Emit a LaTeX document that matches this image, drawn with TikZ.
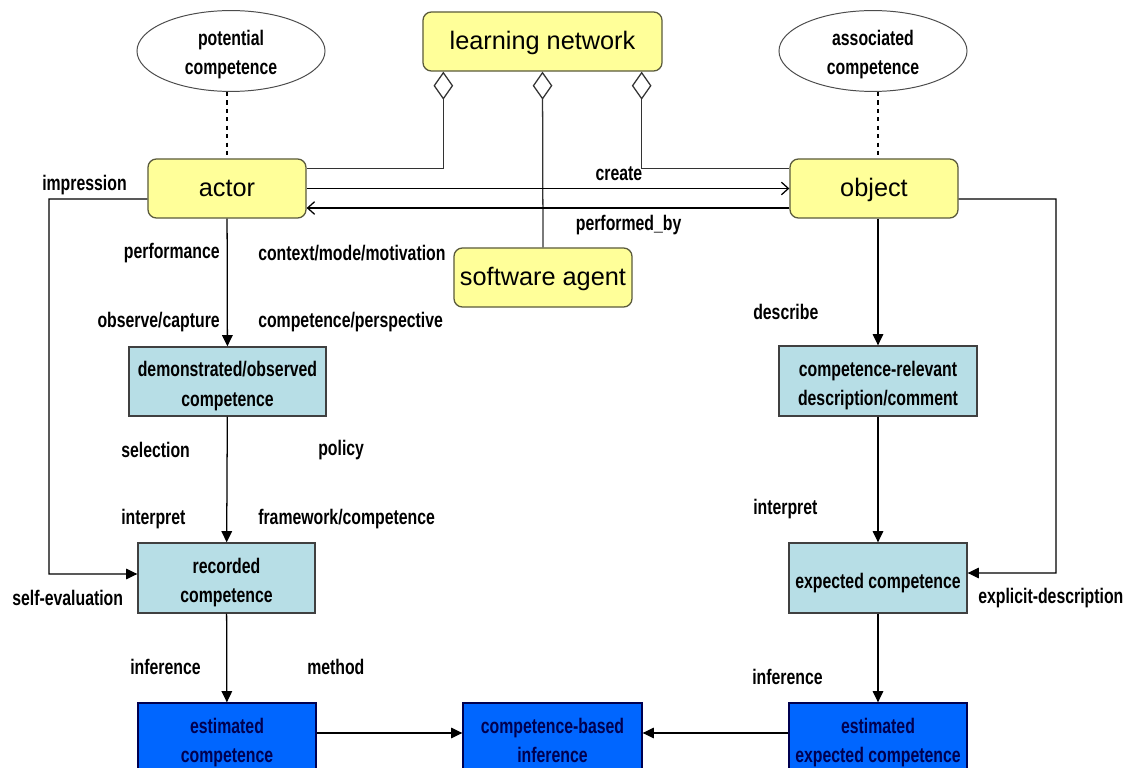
\documentclass[tikz,border=0pt]{standalone}
\usepackage{fontspec}
\setmainfont{Liberation Sans}
\newfontfamily\labelfont{Liberation Sans}[UprightFont=* Bold, FakeStretch=0.75]
\usepackage{xcolor}
\definecolor{paleyellow}{RGB}{255,255,153}
\definecolor{yellowedge}{RGB}{90,90,60}
\definecolor{paleblue}{RGB}{183,222,230}
\definecolor{brightblue}{RGB}{0,102,255}
\definecolor{darknavy}{RGB}{0,0,80}
\usepackage{tikz}
\usetikzlibrary{arrows.meta}
\usetikzlibrary{shapes.geometric}
\newcommand{\heightentity}{1.475cm}
\newcommand{\heightstage}{1.75cm}
\newcommand{\widthstage}{4.45cm}
\tikzset{
    common/.style={draw, rectangle, line width=0.9pt, align=center},
    entity/.style={common, rounded corners=6pt, fill=paleyellow, draw=yellowedge, minimum height=\heightentity, text height=12pt, text depth=0pt, font=\fontsize{18pt}{20pt}\selectfont},
    stage/.style={common, fill=paleblue, draw=black!75, minimum height=\heightstage, minimum width=\widthstage, text depth=0pt, text height=35pt, font=\labelfont\fontsize{15pt}{21pt}\selectfont},
    oneline/.style={text height=15pt},
    result/.style={stage, fill=brightblue, draw=darknavy, text=darknavy, minimum height=1.9cm, text height=31pt},
    oval/.style={draw=black!70, ellipse, line width=0.7pt, fill=white, minimum width=4.7cm, minimum height=1.95cm, align=center, text depth=0pt, text height=34pt, font=\labelfont\fontsize{15pt}{21pt}\selectfont},
    tag/.style={inner sep=0pt, font=\labelfont\fontsize{15pt}{18pt}\selectfont},
    flow/.style={-{Triangle[length=8pt, width=7.5pt]}, line width=0.9pt},
    call/.style={-{Straight Barb[length=5pt, width=9pt]}, line width=0.9pt},
    part/.style={{Diamond[open, length=20pt, width=14pt]}-, line width=0.9pt, draw=black!80},
    link/.style={dashed, line width=0.9pt}
}

\begin{document}
\begin{tikzpicture}[x=0.025cm, y=-0.025cm]
    \useasboundingbox (0,0) rectangle (1127,768);
    \clip (0,0) rectangle (1127,768);

    \path
        (231,51) node[oval] (potential) {potential\\competence}
        (873,51) node[oval] (associated) {associated\\competence}
        (542.5,41.5) node[entity, minimum width=5.975cm] (network) {learning network}
        (227,188.5) node[entity, minimum width=3.95cm] (actor) {actor}
        (874,188.5) node[entity, minimum width=4.2cm] (object) {object}
        (543,277.5) node[entity, minimum width=4.45cm] (agent) {software agent}
        (227.5,381.5) node[stage, minimum width=4.925cm, minimum height=1.725cm] (observed) {demonstrated/observed\\competence}
        (226.5,578) node[stage, minimum width=4.425cm] (recorded) {recorded\\competence}
        (878,381) node[stage, minimum width=4.95cm] (relevant) {competence-relevant\\description/comment}
        (878,578) node[stage, oneline] (expected) {expected competence}
        (227,741) node[result] (estimated) {estimated\\competence}
        (552.5,741) node[result, minimum width=4.475cm] (based) {competence-based\\inference}
        (878,741) node[result] (estimated-expected) {estimated\\expected competence};

    \path
        (42,185) node[tag, anchor=west] (impression) {impression}
        (220,253) node[tag, anchor=east] (performance) {performance}
        (258,253) node[tag, anchor=west] (context) {context/mode/motivation}
        (220,322) node[tag, anchor=east] (observe) {observe/capture}
        (258,322) node[tag, anchor=west] (perspective) {competence/perspective}
        (121,450) node[tag, anchor=west] (selection) {selection}
        (318,450) node[tag, anchor=west] (policy) {policy}
        (121,519) node[tag, anchor=west] (interpret-left) {interpret}
        (258,519) node[tag, anchor=west] (framework) {framework/competence}
        (12,598) node[tag, anchor=west] (self-evaluation) {self-evaluation}
        (130,667) node[tag, anchor=west] (inference-left) {inference}
        (307,667) node[tag, anchor=west] (method) {method}
        (753,312) node[tag, anchor=west] (describe) {describe}
        (753,509) node[tag, anchor=west] (interpret-right) {interpret}
        (978,598) node[tag, anchor=west] (explicit-description) {explicit-description}
        (752,677) node[tag, anchor=west] (inference-right) {inference};

    \coordinate (self-bend) at (49,574);
    \coordinate (explicit-bend) at (1056,573);

    \draw[link] (potential.south -| actor.north) -- (actor.north);
    \draw[link] (relevant.north |- associated.south) -- (relevant.north |- object.north);

    \draw[part] ([xshift=0.525cm]network.south west) |- ([yshift=-0.25cm]actor.north east);
    \draw[part] (network.south) -- (agent.north);
    \draw[part] ([xshift=-0.525cm]network.south east) |- ([yshift=-0.25cm]object.north west);

    \draw[call] (actor.east) -- node[tag, pos=0.647, above=5pt] (create) {create} (object.west);
    \draw[call] ([yshift=-0.4875cm]object.west) -- node[tag, pos=0.333, below=5pt] (performed-by) {performed\_by} ([yshift=-0.4875cm]actor.east);

    \draw[flow] (actor) -- (observed);
    \draw[flow] (observed) -- (recorded);
    \draw[flow] (recorded) -- (estimated);
    \draw[flow] (relevant.north |- object.south) -- (relevant);
    \draw[flow] (relevant) -- (expected);
    \draw[flow] (expected) -- (estimated-expected);
    \draw[flow] ([yshift=0.2cm]estimated.east) -- ([yshift=0.2cm]based.west);
    \draw[flow] ([yshift=0.2cm]estimated-expected.west) -- ([yshift=0.2cm]based.east);
    \draw[flow] ([yshift=-0.2625cm]actor.west) -| (self-bend) -- ([yshift=0.1cm]recorded.west);
    \draw[flow] ([yshift=-0.2625cm]object.east) -| (explicit-bend) -- ([yshift=0.125cm]expected.east);
\end{tikzpicture}
\end{document}
